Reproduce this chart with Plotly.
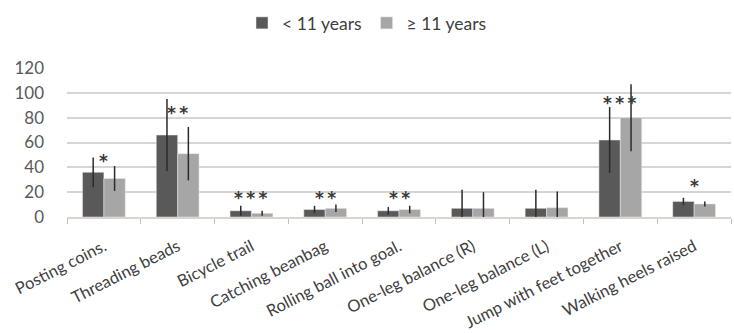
import plotly.graph_objects as go

# Task names (x categories)
tasks = [
    "Posting coins.", "Threading beads", "Bicycle trail", "Catching beanbag",
    "Rolling ball into goal.", "One-leg balance (R)", "One-leg balance (L)",
    "Jump with feet together", "Walking heels raised",
]

# Mean scores and standard deviations by age group
young_mean = [36, 66, 5, 6, 5, 7, 7, 62, 12.5]
young_sd = [12, 29, 4, 3, 3, 15, 15, 26.5, 3]
old_mean = [31, 51, 3, 7, 6, 7, 7.5, 80, 10.5]
old_sd = [10, 21.5, 2, 3, 3, 13, 13, 27, 2]

# Significance markers and their heights
sig_marks = ["*", "**", "***", "**", "**", "", "", "***", "*"]
sig_y = [45, 84, 15, 15, 15, None, None, 92, 25]

dark = "#595959"
light = "#a6a6a6"
err_color = "#2b2b2b"
font = "Lato, Carlito, Calibri, sans-serif"

fig = go.Figure()
fig.add_trace(go.Bar(
    name="< 11 years", x=tasks, y=young_mean, marker_color=dark,
    error_y=dict(type="data", array=young_sd, visible=True,
                 color=err_color, thickness=1.5, width=0),
))
fig.add_trace(go.Bar(
    name="\u2265 11 years", x=tasks, y=old_mean, marker_color=light,
    error_y=dict(type="data", array=old_sd, visible=True,
                 color=err_color, thickness=1.5, width=0),
))

for t, m, y in zip(tasks, sig_marks, sig_y):
    if m:
        fig.add_annotation(x=t, y=y, text="<b>" + "\u2009".join(m) + "</b>",
                           showarrow=False,
                           font=dict(size=17, color="#383838",
                                     family="DejaVu Sans, sans-serif"))

fig.update_layout(
    width=734, height=333,
    margin=dict(l=67, r=3, t=68, b=116, autoexpand=False),
    paper_bgcolor="white", plot_bgcolor="white",
    barmode="group", bargap=0.42, bargroupgap=0,
    font=dict(family=font, color="#595959"),
    legend=dict(orientation="h", x=0.5, xanchor="center", y=0.985, yanchor="top",
                xref="container", yref="container",
                font=dict(size=17.5, color="#404040"), itemwidth=30,
                traceorder="normal"),
    showlegend=True,
)

fig.update_yaxes(range=[0, 120], dtick=20, showgrid=True, gridcolor="#d9d4d0",
                 gridwidth=1.5, zeroline=False, showline=False, automargin=False,
                 tickfont=dict(size=17, color="#595959"), ticks="", ticklen=0,
                 ticklabelstandoff=22)
fig.update_xaxes(showline=True, linecolor="#d9d4d0", linewidth=1.5, automargin=False,
                 ticks="outside", tickson="boundaries", ticklen=5,
                 tickcolor="#bfbfbf", tickangle=-27, ticklabelstandoff=12,
                 tickfont=dict(size=16.5, color="#404040"))

fig.write_html("out.html")
